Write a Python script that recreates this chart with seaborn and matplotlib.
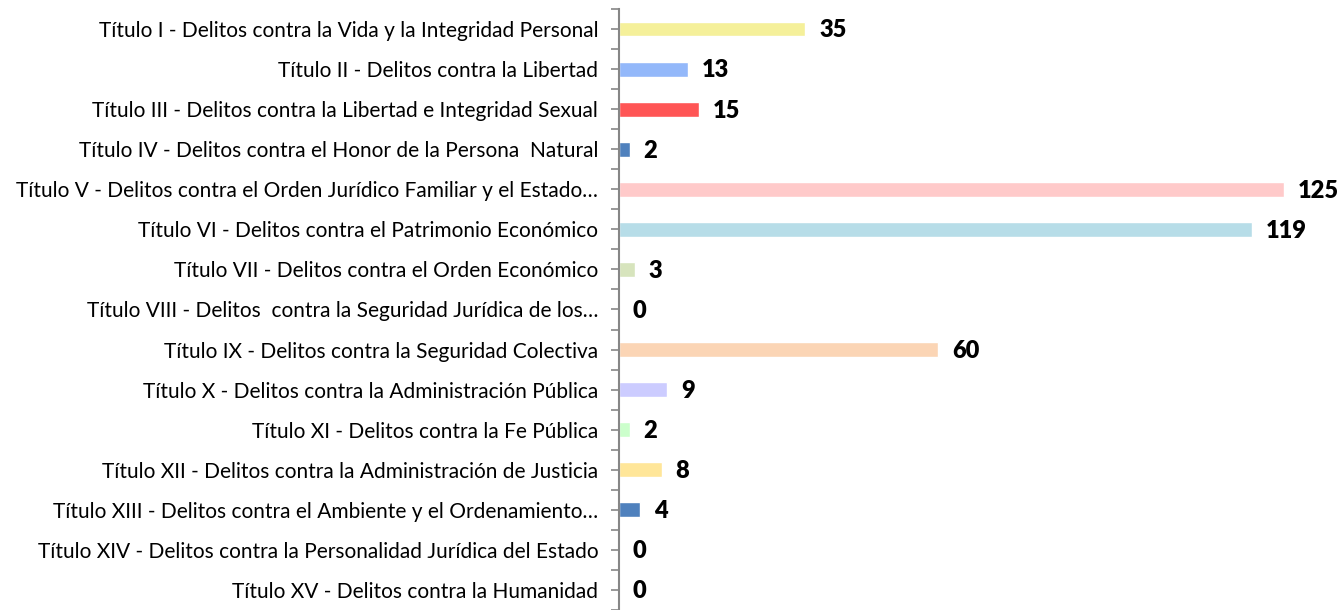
import matplotlib
matplotlib.use("Agg")
import matplotlib.pyplot as plt
import seaborn as sns
import pandas as pd
from matplotlib.ticker import FixedLocator

titles = [
    "Título I - Delitos contra la Vida y la Integridad Personal",
    "Título II - Delitos contra la Libertad",
    "Título III - Delitos contra la Libertad e Integridad Sexual",
    "Título IV - Delitos contra el Honor de la Persona  Natural",
    "Título V - Delitos contra el Orden Jurídico Familiar y el Estado…",
    "Título VI - Delitos contra el Patrimonio Económico",
    "Título VII - Delitos contra el Orden Económico",
    "Título VIII - Delitos  contra la Seguridad Jurídica de los…",
    "Título IX - Delitos contra la Seguridad Colectiva",
    "Título X - Delitos contra la Administración Pública",
    "Título XI - Delitos contra la Fe Pública",
    "Título XII - Delitos contra la Administración de Justicia",
    "Título XIII - Delitos contra el Ambiente y el Ordenamiento…",
    "Título XIV - Delitos contra la Personalidad Jurídica del Estado",
    "Título XV - Delitos contra la Humanidad",
]
counts = [35, 13, 15, 2, 125, 119, 3, 0, 60, 9, 2, 8, 4, 0, 0]
colors = [
    "#F5F09A", "#93B8FA", "#FF5555", "#4F81BD", "#FFCACA",
    "#B7DDE8", "#D7E4BD", "#C0C0C0", "#FBD5B5", "#CCCCFF",
    "#CCFFCC", "#FFE699", "#4F81BD", "#C0C0C0", "#C0C0C0",
]

df = pd.DataFrame({"titulo": titles, "casos": counts})

sns.set_style("white")
plt.rcParams["font.family"] = ["Lato", "DejaVu Sans"]

fig = plt.figure(figsize=(13.41, 6.10), dpi=100)
ax = fig.add_axes([619 / 1341, 0.0, 1 - 619 / 1341, 1 - 9 / 610])

sns.barplot(data=df, y="titulo", x="casos", hue="titulo", palette=colors,
            saturation=1, legend=False, width=0.37, orient="h", ax=ax)

ax.set_xlim(0, 135.7)
ax.set_ylim(len(titles) - 0.5, -0.5)
ax.set_xlabel("")
ax.set_ylabel("")
ax.set_xticks([])

for side in ["top", "right", "bottom"]:
    ax.spines[side].set_visible(False)
ax.spines["left"].set_color("#868686")
ax.spines["left"].set_linewidth(1.5)

ax.yaxis.set_minor_locator(FixedLocator([i + 0.5 for i in range(-1, len(titles))]))
ax.tick_params(axis="y", which="both", left=True, direction="out", length=6,
               width=1.2, color="#868686", labelsize=15, labelcolor="black",
               pad=9)

for i, v in enumerate(counts):
    ax.annotate(str(v), xy=(v, i), xytext=(10, -1), textcoords="offset points",
                va="center", ha="left", fontsize=17, fontweight="heavy",
                color="black")

fig.savefig("out.png", dpi=100)
